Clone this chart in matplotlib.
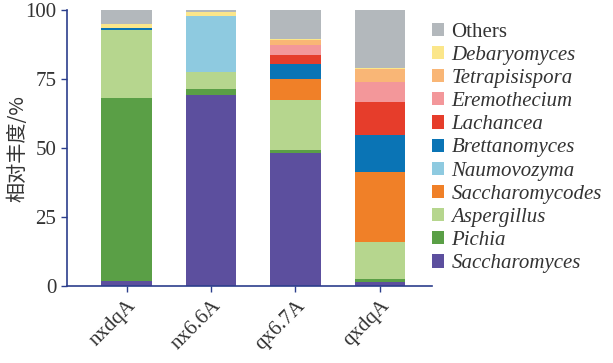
import matplotlib.pyplot as plt
import numpy as np

samples = ["nxdqA", "nx6.6A", "qx6.7A", "qxdqA"]

# stacked from bottom to top
genera = ["Saccharomyces", "Pichia", "Aspergillus", "Saccharomycodes", "Naumovozyma",
          "Brettanomyces", "Lachancea", "Eremothecium", "Tetrapisispora", "Debaryomyces", "Others"]
saccharomyces   = [2.0, 69.2, 48.2, 1.5]
pichia          = [66.1, 2.2, 1.1, 1.0]
aspergillus     = [24.7, 6.1, 18.1, 13.4]
saccharomycodes = [0.0, 0.0, 7.6, 25.4]
naumovozyma     = [0.0, 20.3, 0.0, 0.0]
brettanomyces   = [0.6, 0.0, 5.4, 13.4]
lachancea       = [0.0, 0.0, 3.3, 12.0]
eremothecium    = [0.0, 0.0, 3.6, 7.2]
tetrapisispora  = [0.0, 0.0, 1.8, 4.7]
debaryomyces    = [1.6, 1.5, 0.4, 0.4]
others          = [5.0, 0.7, 10.5, 21.0]

values = [saccharomyces, pichia, aspergillus, saccharomycodes, naumovozyma,
          brettanomyces, lachancea, eremothecium, tetrapisispora, debaryomyces, others]
colors = ["#5c4f9e", "#5a9f46", "#b6d68e", "#f08028", "#8ecae0",
          "#0a74b5", "#e63d2b", "#f3979a", "#f9b676", "#fbe68a", "#b3b8bc"]

axis_color = "#2c3e8c"
text_color = "#333333"

fig = plt.figure(figsize=(6.13, 3.63), dpi=100)
ax = fig.add_axes([0.109, 0.212, 0.596, 0.76])

x = np.arange(len(samples))
bottom = np.zeros(len(samples))
handles = []
for name, vals, c in zip(genera, values, colors):
    b = ax.bar(x, vals, 0.6, bottom=bottom, color=c, label=name)
    handles.append(b)
    bottom += np.array(vals)

ax.set_xlim(-0.71, 3.62)
ax.set_ylim(0, 100)
ax.set_yticks([0, 25, 50, 75, 100])
for s in ["top", "right"]:
    ax.spines[s].set_visible(False)
for s in ["left", "bottom"]:
    ax.spines[s].set_color(axis_color)
    ax.spines[s].set_linewidth(1.2)
ax.tick_params(colors=axis_color, length=4, width=1)
ax.set_xticks(x)
ax.set_xticklabels(samples, rotation=45, ha="right", rotation_mode="anchor",
                   family="Liberation Serif", fontsize=15, color=text_color)
for lab in ax.get_yticklabels():
    lab.set_family("Liberation Serif")
    lab.set_fontsize(15)
    lab.set_color(text_color)

ax.set_ylabel("相对丰度/%", family=["Noto Sans CJK SC", "DejaVu Sans"], fontsize=14.5,
              color=text_color, va="center")
ax.yaxis.set_label_coords(-0.134, 0.5)

leg_handles = handles[::-1]
leg_labels = genera[::-1]
leg = ax.legend(leg_handles, leg_labels, loc="upper left", bbox_to_anchor=(0.976, 0.985),
                frameon=False, handlelength=0.6, handleheight=0.6, handletextpad=0.35,
                labelspacing=0.2, borderaxespad=0,
                prop={"family": "Liberation Serif", "size": 15, "style": "italic"})
for t in leg.get_texts():
    t.set_color(text_color)
leg.get_texts()[0].set_style("normal")

fig.savefig("out.png", dpi=100)
